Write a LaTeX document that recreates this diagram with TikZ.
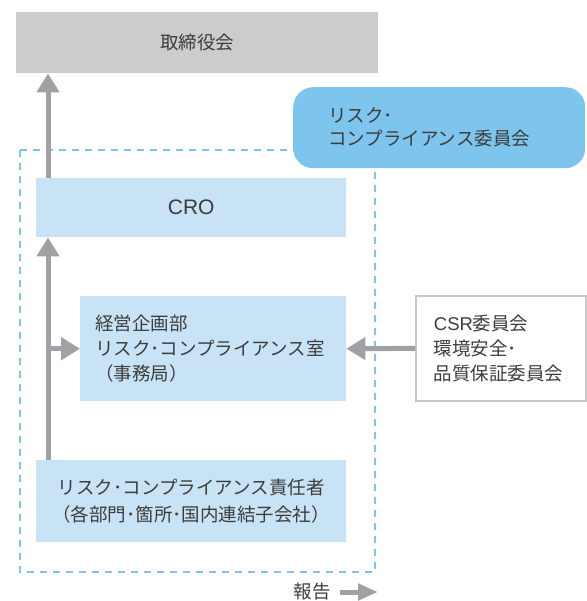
\documentclass[tikz,border=0pt]{standalone}
\usepackage{fontspec}
\setmainfont{Noto Sans CJK JP}
\newfontfamily\latinfont{Liberation Sans}
\usetikzlibrary{positioning,arrows.meta}
\definecolor{boardgray}{HTML}{CBCCCE}
\definecolor{arrowgray}{HTML}{A0A1A4}
\definecolor{paleblue}{HTML}{C9E3F6}
\definecolor{skyblue}{HTML}{7DC5EC}
\definecolor{framegray}{HTML}{C8C8C8}
\definecolor{textgray}{HTML}{3C3C3C}

\begin{document}
\begin{tikzpicture}[x=1pt,y=-1pt,
  font=\fontsize{18.5}{25}\selectfont, text=textgray,
  box/.style={inner sep=0pt, anchor=north west},
  report/.style={arrowgray, line width=5pt, -{Triangle[width=22pt,length=19pt]}}]
\useasboundingbox (0,0) rectangle (586,601);
% dashed frame round the working bodies
\draw[skyblue, line width=2.8pt, dash pattern=on 7pt off 6pt] (20,150) rectangle (375,572);
\node[box, fill=boardgray, minimum width=362pt, minimum height=61pt] (board) at (16,12) {取締役会};
\node[box, fill=skyblue, rounded corners=20pt, inner xsep=35pt, text width=222pt,
  minimum height=81pt, align=left, font=\fontsize{18.5}{23}\selectfont]
  (committee) at (293,87) {リスク･\\コンプライアンス委員会};
\node[box, fill=paleblue, minimum width=310pt, minimum height=59pt,
  font=\latinfont\fontsize{21}{23}\selectfont] (cro) at (36,178) {CRO};
\node[box, fill=paleblue, inner xsep=15pt, text width=236pt, minimum height=105pt,
  align=left] (office) at (80,296) {経営企画部\\リスク･コンプライアンス室\\（事務局）};
\node[box, draw=framegray, line width=1.8pt, inner xsep=18pt, text width=134pt,
  minimum height=105pt, align=left] (csr) at (415,295) {{\latinfont CSR}委員会\\環境安全･\\品質保証委員会};
\node[box, fill=paleblue, minimum width=310pt, minimum height=82pt,
  align=center] (resp) at (36,460) {リスク･コンプライアンス責任者\\[2pt]（各部門･箇所･国内連結子会社）};
% reporting lines
\draw[report] ([xshift=12pt]cro.north west) -- ([xshift=12pt]cro.north west |- board.south);
\draw[report] ([xshift=12pt]resp.north west) -- ([xshift=12pt]resp.north west |- cro.south);
\draw[report] ([xshift=12pt]resp.north west |- office.west) -- (office.west);
\draw[report] (csr.west) -- (office.east);
% legend
\node (legend) at (312,592) {報告};
\coordinate (legend end) at (378,592);
\draw[report, -{Triangle[width=16pt,length=20pt]}] ([xshift=6pt]legend.east) -- (legend end);
\end{tikzpicture}
\end{document}
